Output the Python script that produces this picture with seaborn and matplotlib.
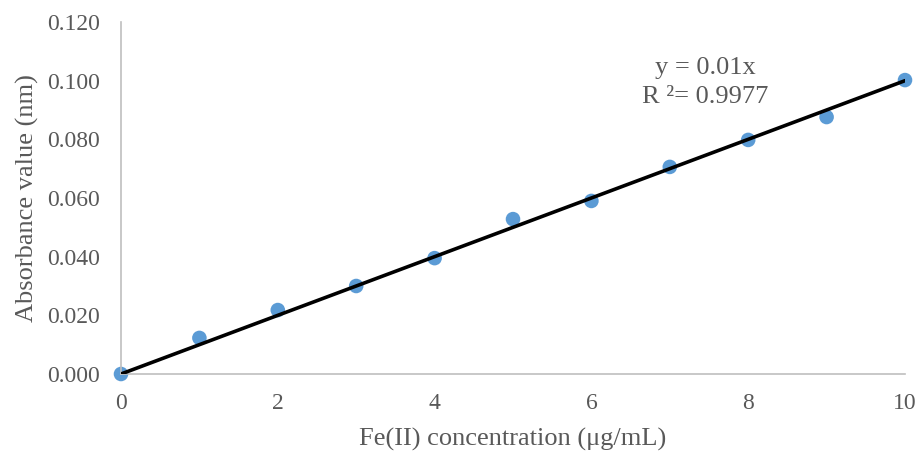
import matplotlib
matplotlib.use("Agg")
import matplotlib.pyplot as plt
import seaborn as sns
import numpy as np
import pandas as pd

conc = [0, 1, 2, 3, 4, 5, 6, 7, 8, 9, 10]
absorb = [0.000, 0.0123, 0.0218, 0.0300, 0.0395, 0.0528, 0.0590, 0.0706, 0.0798, 0.0876, 0.1002]
slope = 0.01
eq_text = "y = 0.01x\nR ²= 0.9977"
xticks = [0, 2, 4, 6, 8, 10]
yticks = [0.000, 0.020, 0.040, 0.060, 0.080, 0.100, 0.120]

sns.set_style("white")
plt.rcParams['font.family'] = ['Liberation Serif', 'DejaVu Serif']
gray = "#595959"

df = pd.DataFrame({"x": conc, "y": absorb})
fig = plt.figure(figsize=(9.23, 4.55), dpi=100)
ax = fig.add_axes([121/923, 81/455, 784/923, 352/455])

fit_x = np.array([conc[0], conc[-1]])
sns.lineplot(x=fit_x, y=slope * fit_x, ax=ax, color="black", linewidth=2.6, zorder=3)
sns.scatterplot(data=df, x="x", y="y", ax=ax, color="#5B9BD5", s=110, edgecolor="none", zorder=2, clip_on=False)

ax.set_xlim(0, 10)
ax.set_ylim(0, 0.12)
ax.set_xticks(xticks)
ax.set_yticks(yticks)
ax.set_xticklabels([str(t) for t in xticks])
ax.set_yticklabels([f"{t:.3f}" for t in yticks])
ax.tick_params(axis="both", length=0, labelsize=17, labelcolor=gray)
ax.tick_params(axis="x", pad=14)
ax.tick_params(axis="y", pad=15)

for s in ["top", "right"]:
    ax.spines[s].set_visible(False)
for s in ["left", "bottom"]:
    ax.spines[s].set_color("#BFBFBF")
    ax.spines[s].set_linewidth(1.2)

ax.set_xlabel("Fe(II) concentration (μg/mL)", fontsize=19, color=gray, labelpad=10)
ax.set_ylabel("Absorbance value (nm)", fontsize=19, color=gray, labelpad=6)

ax.text(7.45, 0.0995, eq_text, fontsize=19, color=gray, ha="center", va="center", linespacing=1.4)

fig.savefig("out.png", dpi=100)
